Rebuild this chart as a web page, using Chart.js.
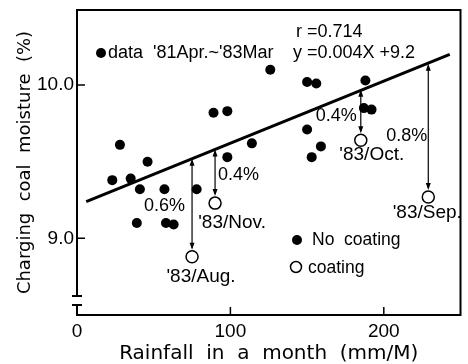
<!DOCTYPE html>
<html>
<head>
<meta charset="utf-8">
<script src="https://cdn.jsdelivr.net/npm/chart.js@4.4.0/dist/chart.umd.min.js"></script>
<style>
    html, body { margin: 0; padding: 0; background: #fff; }
</style>
</head>
<body>
<canvas id="moistureChart" width="468" height="364"></canvas>
<script>
// monthly rainfall (mm/M) vs charging coal moisture (%), '81Apr ~ '83Mar
const rainNoCoating = [23, 28, 35, 39, 41, 46, 57, 58, 63, 78, 89, 98, 98, 114, 126, 150, 156, 150, 159, 153, 188, 187, 192];
const moistNoCoating = [9.38, 9.61, 9.39, 9.10, 9.32, 9.50, 9.32, 9.10, 9.09, 9.32, 9.82, 9.83, 9.53, 9.62, 10.10, 10.02, 10.01, 9.71, 9.60, 9.53, 10.03, 9.85, 9.84];

const rainCoating = [75, 90, 185, 229];
const moistCoating = [8.88, 9.23, 9.64, 9.27];
const coatingMonths = ["'83/Aug.", "'83/Nov.", "'83/Oct.", "'83/Sep."];
const moistureDrop = ['0.6%', '0.4%', '0.4%', '0.8%'];
const fitAtCoating = [9.52, 9.58, 9.97, 10.14];

const fitRain = [6, 243];
const fitMoist = [9.24, 10.20];

const xTicks = [0, 100, 200];
const yTicks = [9.0, 10.0];

const FONT = 'Liberation Sans';
const TITLE_FONT = 'DejaVu Sans';

// label placement next to each arrow / open circle (pixels)
const dropLabelPos = [
    { dx: -7, dy: 2, align: 'right' },
    { dx: 3, dy: 2, align: 'left' },
    { dx: -4, dy: 5, align: 'right' },
    { dx: -1, dy: 9, align: 'right' }
];
const monthLabelPos = [
    { dx: 9, dy: 20 },
    { dx: 17, dy: 20 },
    { dx: 11, dy: 14 },
    { dx: -1, dy: 16 }
];

function drawArrow(ctx, x, yTop, yBottom) {
    const head = 7;
    const half = 2.5;
    ctx.beginPath();
    ctx.moveTo(x, yTop + 2);
    ctx.lineTo(x, yBottom - 2);
    ctx.stroke();

    ctx.beginPath();
    ctx.moveTo(x, yTop);
    ctx.lineTo(x - half, yTop + head);
    ctx.lineTo(x + half, yTop + head);
    ctx.closePath();
    ctx.fill();

    ctx.beginPath();
    ctx.moveTo(x, yBottom);
    ctx.lineTo(x - half, yBottom - head);
    ctx.lineTo(x + half, yBottom - head);
    ctx.closePath();
    ctx.fill();
}

const framePlugin = {
    id: 'frame',
    beforeDatasetsDraw(chart) {
        const { ctx, chartArea: a, scales } = chart;
        ctx.save();
        ctx.strokeStyle = '#000';
        ctx.lineWidth = 2;

        // top, right, bottom
        ctx.beginPath();
        ctx.moveTo(a.left - 1, a.top);
        ctx.lineTo(a.right, a.top);
        ctx.lineTo(a.right, a.bottom);
        ctx.lineTo(a.left - 1, a.bottom);
        ctx.stroke();

        // left axis with break
        const breakTop = a.bottom - 19;
        const breakBottom = a.bottom - 10;
        ctx.beginPath();
        ctx.moveTo(a.left, a.top);
        ctx.lineTo(a.left, breakTop);
        ctx.moveTo(a.left, breakBottom);
        ctx.lineTo(a.left, a.bottom);
        ctx.moveTo(a.left - 5, breakTop);
        ctx.lineTo(a.left + 5, breakTop);
        ctx.moveTo(a.left - 5, breakBottom);
        ctx.lineTo(a.left + 5, breakBottom);
        ctx.stroke();

        // inward ticks
        ctx.lineWidth = 1.5;
        ctx.beginPath();
        xTicks.forEach((v) => {
            if (v === 0) {
                return;
            }
            const x = scales.x.getPixelForValue(v);
            ctx.moveTo(x, a.bottom);
            ctx.lineTo(x, a.bottom - 8);
        });
        yTicks.forEach((v) => {
            const y = scales.y.getPixelForValue(v);
            ctx.moveTo(a.left, y);
            ctx.lineTo(a.left + 8, y);
        });
        ctx.stroke();
        ctx.restore();
    },
    afterDatasetsDraw(chart) {
        const { ctx, chartArea: a, scales } = chart;
        const r = 6;
        ctx.save();
        ctx.strokeStyle = '#000';
        ctx.fillStyle = '#000';
        ctx.lineWidth = 1.2;

        rainCoating.forEach((rain, i) => {
            const x = scales.x.getPixelForValue(rain);
            const yTop = scales.y.getPixelForValue(fitAtCoating[i]);
            const yCircle = scales.y.getPixelForValue(moistCoating[i]);
            const yBottom = yCircle - r - 1;
            drawArrow(ctx, x, yTop, yBottom);

            const mid = (yTop + yBottom) / 2;
            const p = dropLabelPos[i];
            ctx.font = '18px "' + FONT + '"';
            ctx.textAlign = p.align;
            ctx.textBaseline = 'middle';
            ctx.fillText(moistureDrop[i], x + p.dx, mid + p.dy);

            const m = monthLabelPos[i];
            ctx.font = '19px "' + FONT + '"';
            ctx.textAlign = 'center';
            ctx.fillText(coatingMonths[i], x + m.dx, yCircle + m.dy);
        });

        ctx.textBaseline = 'middle';
        ctx.textAlign = 'left';
        ctx.font = '18px "' + FONT + '"';

        // regression text
        ctx.fillText('r =0.714', a.left + 219, a.top + 22);
        ctx.fillText('y =0.004X +9.2', a.left + 216, a.top + 43);

        // data period note
        ctx.beginPath();
        ctx.arc(a.left + 24, a.top + 43, 5, 0, Math.PI * 2);
        ctx.fill();
        ctx.fillText("data  '81Apr.~'83Mar", a.left + 31, a.top + 43);

        // legend
        ctx.font = '17.5px "' + FONT + '"';
        ctx.beginPath();
        ctx.arc(a.left + 220, a.top + 230, 5, 0, Math.PI * 2);
        ctx.fill();
        ctx.fillText('No  coating', a.left + 235, a.top + 230);

        ctx.lineWidth = 1.5;
        ctx.beginPath();
        ctx.arc(a.left + 219, a.top + 257, 5.5, 0, Math.PI * 2);
        ctx.stroke();
        ctx.fillText('coating', a.left + 231, a.top + 258);

        ctx.restore();
    }
};

const ctx = document.getElementById('moistureChart').getContext('2d');
const chart = new Chart(ctx, {
    type: 'scatter',
    data: {
        datasets: [
            {
                label: 'No coating',
                data: rainNoCoating.map((x, i) => ({ x: x, y: moistNoCoating[i] })),
                backgroundColor: '#000',
                borderColor: '#000',
                pointRadius: 5,
                borderWidth: 0
            },
            {
                label: 'coating',
                data: rainCoating.map((x, i) => ({ x: x, y: moistCoating[i] })),
                backgroundColor: '#fff',
                borderColor: '#000',
                pointRadius: 6,
                borderWidth: 1.5
            },
            {
                label: 'fit',
                data: fitRain.map((x, i) => ({ x: x, y: fitMoist[i] })),
                showLine: true,
                borderColor: '#000',
                borderWidth: 3,
                pointRadius: 0,
                fill: false
            }
        ]
    },
    plugins: [framePlugin],
    options: {
        responsive: false,
        animation: false,
        layout: { padding: { top: 10, right: 5, left: 0, bottom: 0 } },
        plugins: {
            legend: { display: false },
            tooltip: { enabled: false }
        },
        scales: {
            x: {
                type: 'linear',
                min: 0,
                max: 250,
                grid: { display: false, drawTicks: false },
                border: { display: false },
                afterBuildTicks: (scale) => { scale.ticks = xTicks.map((v) => ({ value: v })); },
                afterFit: (scale) => {
                    scale.height = 49;
                    scale.paddingLeft = 0;
                    scale.paddingRight = 0;
                },
                ticks: {
                    color: '#000',
                    padding: 5,
                    font: { family: FONT, size: 19 },
                    maxRotation: 0,
                    callback: (v) => String(v)
                },
                title: {
                    display: true,
                    text: 'Rainfall  in  a  month  (mm/M)',
                    color: '#000',
                    padding: 0,
                    font: { family: TITLE_FONT, size: 20, lineHeight: 1 }
                }
            },
            y: {
                min: 8.5,
                max: 10.49,
                grid: { display: false, drawTicks: false },
                border: { display: false },
                afterBuildTicks: (scale) => { scale.ticks = yTicks.map((v) => ({ value: v })); },
                afterFit: (scale) => {
                    scale.width = 77;
                    scale.paddingTop = 0;
                    scale.paddingBottom = 0;
                },
                ticks: {
                    color: '#000',
                    padding: 3,
                    font: { family: FONT, size: 19 },
                    callback: (v) => Number(v).toFixed(1)
                },
                title: {
                    display: true,
                    text: 'Charging  coal  moisture  (%)',
                    color: '#000',
                    padding: { top: 16, bottom: 0 },
                    font: { family: TITLE_FONT, size: 18, lineHeight: 1 }
                }
            }
        }
    }
});
</script>
</body>
</html>
